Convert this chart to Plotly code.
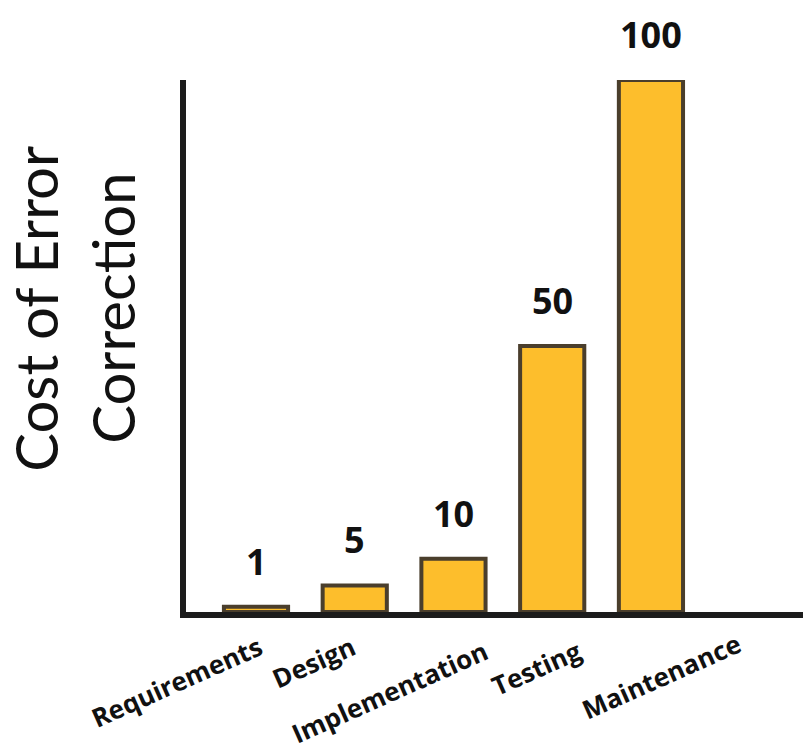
import plotly.graph_objects as go

# Relative cost of fixing an error, by the phase in which it is found
phases = ["Requirements", "Design", "Implementation", "Testing", "Maintenance"]
cost = [1, 5, 10, 50, 100]
y_title_lines = ["Cost of Error", "Correction"]

BAR_FILL = "#FDBE2C"
BAR_EDGE = "#4a3e2c"
AXIS_COLOR = "#1c1c1c"
TITLE_FONT = "Lato, 'Open Sans', sans-serif"
LABEL_FONT = "'Open Sans', Lato, sans-serif"

# plot area in pixels
L, R, T, B = 186, 0, 80, 139
W, H = 803, 751

fig = go.Figure(
    go.Bar(
        x=phases,
        y=cost,
        marker=dict(color=BAR_FILL, line=dict(color=BAR_EDGE, width=4)),
        hoverinfo="x+y",
    )
)

annotations = []

# value labels above each bar
for p, v in zip(phases, cost):
    annotations.append(dict(
        x=p, y=v, xref="x", yref="y", text=f"<b>{v}</b>",
        showarrow=False, xanchor="center", yanchor="bottom", yshift=19,
        font=dict(family=LABEL_FONT, size=36, color="#111111"),
    ))

# slanted category labels under the axis (pixel nudges per label)
label_nudge = [(-80, -70), (-41, -50), (-64, -80), (-16, -56), (11, -64)]
for p, (dx, dy) in zip(phases, label_nudge):
    annotations.append(dict(
        x=p, y=0, xref="x", yref="paper", text=f"<b>{p}</b>",
        showarrow=False, xanchor="center", yanchor="middle",
        xshift=dx, yshift=dy, textangle=-24,
        font=dict(family=LABEL_FONT, size=26, color="#111111"),
    ))

# two-line vertical axis title
for line, cx in zip(y_title_lines, [36, 113]):
    annotations.append(dict(
        x=0, y=0.57, xref="paper", yref="paper", text=line,
        showarrow=False, xanchor="center", yanchor="middle",
        xshift=cx - L, textangle=-90,
        font=dict(family=TITLE_FONT, size=58, color="#111111"),
    ))

fig.update_layout(
    width=W, height=H,
    margin=dict(l=L, r=R, t=T, b=B, pad=0),
    paper_bgcolor="white", plot_bgcolor="white",
    showlegend=False, bargap=0.35,
    annotations=annotations,
    xaxis=dict(
        type="category", range=[-0.709, 5.54],
        showline=True, linewidth=6, linecolor=AXIS_COLOR,
        showticklabels=False, ticks="", showgrid=False, zeroline=False,
    ),
    yaxis=dict(
        range=[0, 100],
        showline=True, linewidth=6, linecolor=AXIS_COLOR,
        showticklabels=False, ticks="", showgrid=False, zeroline=False,
    ),
)
fig.update_traces(cliponaxis=False)

fig.write_html("out.html")
